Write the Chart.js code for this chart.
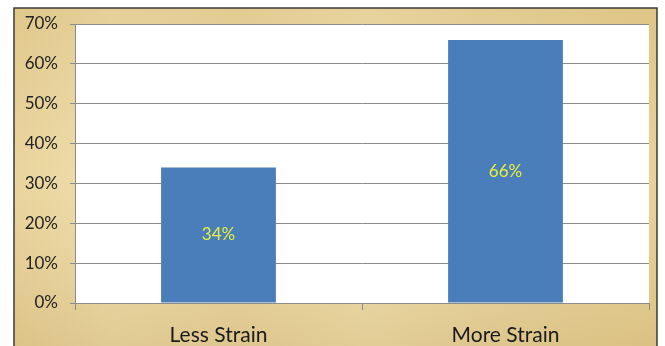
<!DOCTYPE html>
<html>
<head>
<meta charset="utf-8">
<script src="https://cdn.jsdelivr.net/npm/chart.js@4.4.1/dist/chart.umd.min.js"></script>
<style>
  html, body { margin: 0; padding: 0; background: #fff; }
  canvas { display: block; }
</style>
</head>
<body>
<canvas id="strainChart" width="665" height="346"></canvas>
<script>
// chart data
const categories = ['Less Strain', 'More Strain'];
const shares = [34, 66];
const yTicks = [0, 10, 20, 30, 40, 50, 60, 70];

// parchment backdrop + frame, drawn before everything else
const parchment = {
    id: 'parchment',
    beforeDraw(chart) {
        const c = chart.ctx;
        c.save();
        c.fillStyle = '#fff';
        c.fillRect(0, 0, chart.width, chart.height);
        let g = c.createLinearGradient(14, 0, 657, 0);
        g.addColorStop(0, '#e6cf93');
        g.addColorStop(0.15, '#ecd9a6');
        g.addColorStop(0.35, '#e9d49c');
        g.addColorStop(0.55, '#eedcaa');
        g.addColorStop(0.75, '#e8d39b');
        g.addColorStop(1, '#e4cc8e');
        c.fillStyle = g;
        c.fillRect(14, 8, 643, 346);
        let v = c.createLinearGradient(0, 8, 0, 346);
        v.addColorStop(0, 'rgba(200,170,100,0.2)');
        v.addColorStop(0.5, 'rgba(255,245,215,0.15)');
        v.addColorStop(1, 'rgba(190,160,95,0.25)');
        c.fillStyle = v;
        c.fillRect(14, 8, 643, 346);
        c.strokeStyle = '#3a3a3a';
        c.lineWidth = 1.5;
        c.strokeRect(14, 8, 643, 360);
        // white plot area
        const a = chart.chartArea;
        c.fillStyle = '#ffffff';
        c.fillRect(a.left, a.top, a.right - a.left, a.bottom - a.top);
        c.restore();
    }
};

// value labels in the middle of each bar
const barLabels = {
    id: 'barLabels',
    afterDatasetsDraw(chart) {
        const c = chart.ctx;
        const meta = chart.getDatasetMeta(0);
        c.save();
        c.font = '17px Lato, "Open Sans", sans-serif';
        c.fillStyle = '#e6f03c';
        c.textAlign = 'center';
        c.textBaseline = 'middle';
        meta.data.forEach((bar, i) => {
            const p = bar.getProps(['x', 'y', 'base'], true);
            c.fillText(shares[i] + '%', p.x, (p.y + p.base) / 2);
        });
        c.restore();
    }
};

new Chart(document.getElementById('strainChart'), {
    type: 'bar',
    data: {
        labels: categories,
        datasets: [{
            data: shares,
            backgroundColor: '#4a7ebb',
            borderWidth: 0,
            categoryPercentage: 1,
            barPercentage: 0.4
        }]
    },
    options: {
        responsive: false,
        animation: false,
        events: [],
        layout: { padding: { left: 14, top: 24, right: 16, bottom: 0 } },
        plugins: { legend: { display: false }, tooltip: { enabled: false } },
        scales: {
            y: {
                min: 0,
                max: 70,
                afterFit(scale) { scale.width = 61; },
                afterBuildTicks(scale) { scale.ticks = yTicks.map(v => ({ value: v })); },
                grid: { color: '#8c8c8c', lineWidth: 1, tickLength: 5 },
                border: { color: '#8c8c8c' },
                ticks: {
                    padding: 12,
                    color: '#222',
                    font: { family: 'Lato, "Open Sans", sans-serif', size: 17 },
                    callback: v => v + '%'
                }
            },
            x: {
                afterFit(scale) { scale.height = 43; },
                grid: { drawOnChartArea: false, color: '#8c8c8c', tickLength: 7, offset: true },
                border: { color: '#8c8c8c' },
                ticks: {
                    padding: 13,
                    color: '#1a1a1a',
                    font: { family: 'Lato, "Open Sans", sans-serif', size: 21 }
                }
            }
        }
    },
    plugins: [parchment, barLabels]
});
</script>
</body>
</html>
